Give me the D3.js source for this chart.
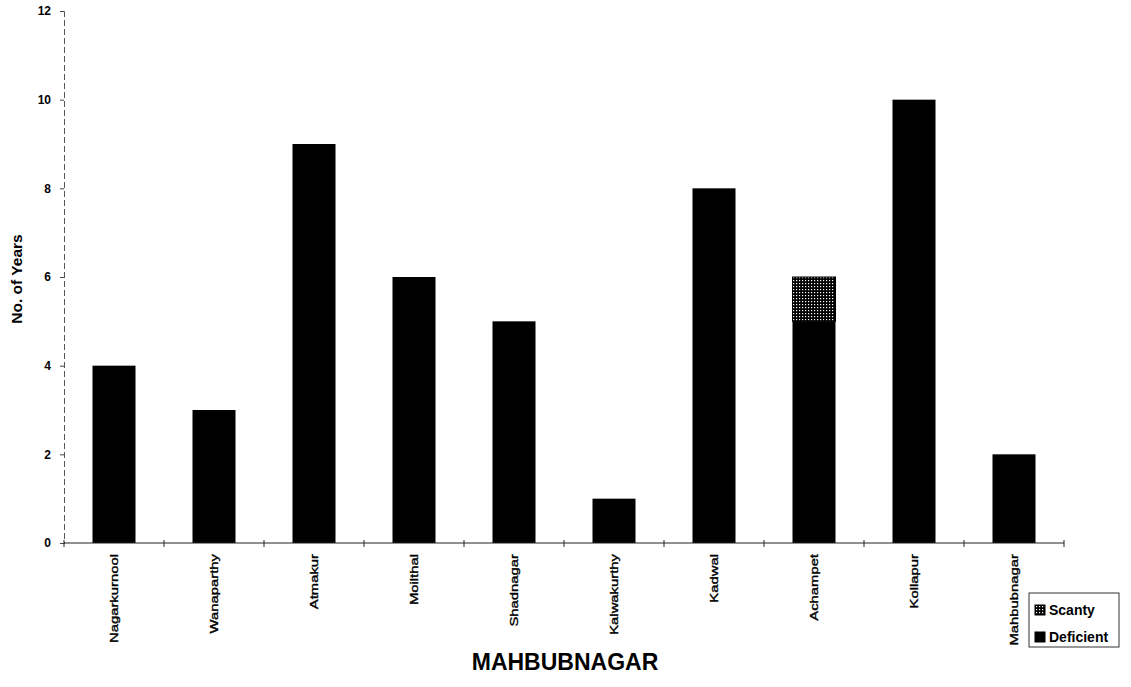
<!DOCTYPE html>
<html><head><meta charset="utf-8">
<script src="https://cdn.jsdelivr.net/npm/d3@7/dist/d3.min.js"></script>
<style>body{margin:0;background:#fff;}svg{display:block;font-family:"Liberation Sans",Arial,sans-serif;}</style>
</head><body>
<script>
const categories = ["Nagarkurnool","Wanaparthy","Atmakur","Moilthal","Shadnagar","Kalwakurthy","Kadwal","Achampet","Kollapur","Mahbubnagar"];
const deficient = [4,3,9,6,5,1,8,5,10,2];
const scanty    = [0,0,0,0,0,0,0,1,0,0];
const yTicks = [0,2,4,6,8,10,12];
const seriesNames = ["Scanty","Deficient"];

const W=1131,H=687;
const svg=d3.select("body").append("svg").attr("width",W).attr("height",H);
const defs=svg.append("defs");
const pat=defs.append("pattern").attr("id","dots").attr("patternUnits","userSpaceOnUse").attr("width",3).attr("height",3);
pat.append("rect").attr("width",3).attr("height",3).attr("fill","#000");
pat.append("rect").attr("x",1).attr("y",1).attr("width",1.2).attr("height",1.2).attr("fill","#fff");

const x=d3.scaleBand().domain(categories).range([64,1064]).paddingInner(0.57).paddingOuter(0.285);
const y=d3.scaleLinear().domain([0,12]).range([543,11]);

// bars
const g=svg.append("g");
g.selectAll(".def").data(categories).join("rect")
 .attr("x",d=>x(d)).attr("width",x.bandwidth())
 .attr("y",(d,i)=>y(deficient[i])).attr("height",(d,i)=>y(0)-y(deficient[i])).attr("fill","#000");
g.selectAll(".sc").data(categories.filter((d,i)=>scanty[i]>0)).join("rect")
 .attr("x",d=>x(d)).attr("width",x.bandwidth())
 .attr("y",d=>{const i=categories.indexOf(d);return y(deficient[i]+scanty[i]);})
 .attr("height",d=>{const i=categories.indexOf(d);return y(deficient[i])-y(deficient[i]+scanty[i]);})
 .attr("fill","url(#dots)").attr("stroke","#000").attr("stroke-width",1);

// y axis
const ya=svg.append("g").attr("transform","translate(64,0)")
 .call(d3.axisLeft(y).tickValues(yTicks).tickSize(4).tickPadding(9).tickFormat(d3.format("d")));
ya.select(".domain").attr("stroke","#555").attr("stroke-dasharray","6,3").attr("stroke-width",1);
ya.selectAll(".tick line").attr("stroke","#444");
ya.selectAll("text").attr("font-size",12).attr("font-weight","bold").attr("fill","#000").attr("font-family","Liberation Sans, Arial, sans-serif");

// x axis line with ticks at band boundaries
const xa=svg.append("g");
xa.append("line").attr("x1",64).attr("x2",1064).attr("y1",543).attr("y2",543).attr("stroke","#222").attr("stroke-width",1.2);
xa.selectAll(".xt").data(d3.range(0,categories.length+1)).join("line")
 .attr("x1",i=>64+x.step()*i).attr("x2",i=>64+x.step()*i)
 .attr("y1",540).attr("y2",547).attr("stroke","#222");

// category labels
svg.selectAll(".cl").data(categories).join("text")
 .attr("transform",d=>`translate(${x(d)+x.bandwidth()/2+4},554) rotate(-90) scale(1.35,1)`)
 .attr("text-anchor","end").attr("font-size",11).attr("fill","#000")
 .attr("stroke","#000").attr("stroke-width",0.35)
 .text(d=>d);

// axis titles
svg.append("text").attr("transform","translate(22,279) rotate(-90)").attr("text-anchor","middle")
 .attr("font-size",15.5).attr("font-weight","bold").text("No. of Years");
svg.append("text").attr("x",565).attr("y",670).attr("text-anchor","middle")
 .attr("font-size",23).attr("font-weight","bold").text("MAHBUBNAGAR");

// legend
const lg=svg.append("g").attr("transform","translate(1029,593)");
lg.append("rect").attr("width",90).attr("height",54).attr("fill","#fff").attr("stroke","#333").attr("stroke-width",1);
const fills=["url(#dots)","#000"];
seriesNames.forEach((s,i)=>{
  lg.append("rect").attr("x",6).attr("y",12+i*27).attr("width",10).attr("height",10).attr("fill",fills[i]).attr("stroke","#000");
  lg.append("text").attr("x",20).attr("y",22+i*27).attr("font-size",14).attr("font-weight","bold").text(s);
});
</script>
</body></html>
